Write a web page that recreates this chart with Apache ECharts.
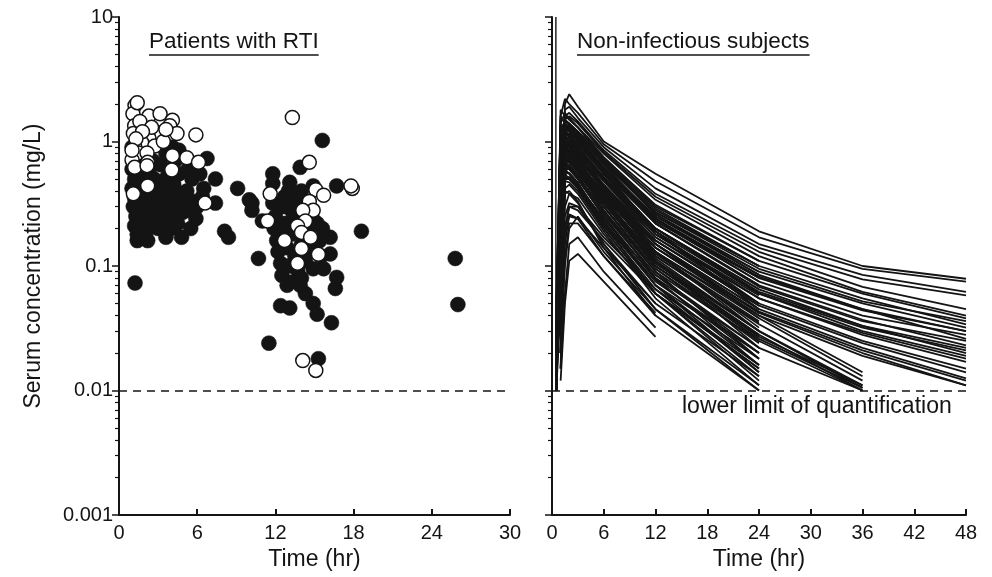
<!DOCTYPE html>
<html><head><meta charset="utf-8">
<script src="https://cdn.jsdelivr.net/npm/echarts@6/dist/echarts.min.js"></script>
<style>html,body{margin:0;padding:0;background:#fff}#c{width:992px;height:577px}</style>
</head><body><div id="c"></div>
<script>
const FONT = '"Liberation Sans", Arial, Helvetica, sans-serif';
const INK = '#141414';

// ---- Axis labels / ticks ----
const yTickLabels = ['0.001', '0.01', '0.1', '1', '10'];
const minorTickValues = [0.002,0.003,0.004,0.005,0.006,0.007,0.008,0.009,
  0.02,0.03,0.04,0.05,0.06,0.07,0.08,0.09,
  0.2,0.3,0.4,0.5,0.6,0.7,0.8,0.9,
  2,3,4,5,6,7,8,9];
const lloq = 0.01;

// ---- Left panel: patients with RTI (hr, mg/L) ----
const rtiFilledEarly = [
  [1.0,0.9],[1.1,0.75],[1.0,0.6],[1.2,0.5],[1.0,0.42],[1.2,0.35],[1.1,0.3],[1.3,0.25],[1.2,0.21],[1.4,0.18],[1.4,0.16],[1.23,0.073],
  [1.6,0.95],[1.7,0.8],[1.5,0.65],[1.8,0.55],[1.6,0.45],[1.9,0.38],[1.7,0.32],[2.0,0.27],[1.8,0.22],[2.1,0.19],[1.7,0.17],[2.2,0.16],
  [2.4,0.9],[2.6,0.7],[2.3,0.58],[2.7,0.5],[2.5,0.42],[2.8,0.36],[2.4,0.3],[2.9,0.26],[2.6,0.22],[3.0,0.2],[2.5,0.25],[2.2,0.35],
  [3.3,0.95],[3.6,0.8],[3.2,0.65],[3.7,0.52],[3.4,0.45],[3.8,0.38],[3.3,0.33],[3.9,0.28],[3.5,0.24],[4.0,0.2],[3.6,0.17],[3.1,0.4],[3.2,0.28],
  [4.3,0.7],[4.6,0.55],[4.2,0.45],[4.7,0.38],[4.4,0.32],[4.9,0.27],[4.5,0.22],[4.8,0.17],[4.2,0.25],[4.1,0.9],[4.6,0.85],
  [5.3,0.6],[5.6,0.5],[5.2,0.4],[5.7,0.33],[5.4,0.28],[5.9,0.24],[5.1,0.35],[5.5,0.2],
  [6.2,0.55],[6.5,0.42],[6.0,0.3],[6.4,0.36],
  [6.75,0.73],[7.4,0.5],[7.4,0.32],[9.1,0.42],[8.1,0.19],[8.4,0.17]
];
const rtiFilledLate = [
  [10.0,0.34],[10.2,0.32],[10.2,0.28],[11.0,0.23],[10.7,0.115],[11.5,0.024],[11.8,0.55],[11.8,0.46],[11.8,0.32],[12.1,0.16],
  [12.4,0.105],[12.5,0.084],[12.4,0.048],[13.1,0.47],[13.1,0.29],[13.1,0.074],[13.1,0.046],[13.7,0.092],[13.9,0.62],[14.3,0.06],
  [14.9,0.44],[14.9,0.095],[14.9,0.05],[15.2,0.041],[15.3,0.018],[15.4,0.16],[15.6,1.02],[15.7,0.095],[16.2,0.17],[16.2,0.125],
  [16.3,0.035],[16.6,0.066],[16.7,0.44],[16.7,0.081],[18.6,0.19],[25.8,0.115],[26.0,0.049],
  [12.0,0.25],[12.3,0.2],[12.6,0.3],[12.8,0.22],[12.9,0.14],[13.2,0.18],[13.4,0.25],[13.5,0.12],[13.6,0.35],[13.8,0.2],
  [14.0,0.15],[14.2,0.28],[14.3,0.11],[14.5,0.19],[14.6,0.13],[14.8,0.25],[15.0,0.14],[15.2,0.22],[15.5,0.12],[15.6,0.2],
  [12.2,0.13],[13.0,0.1],[14.0,0.08],[11.9,0.2],[12.7,0.36],[12.9,0.07],[13.9,0.07],[13.0,0.4],[14.0,0.4]
];
const rtiOpen = [
  [1.23,1.95],[1.07,1.67],[2.3,1.6],[3.15,1.67],[4.1,1.48],[3.9,1.34],[1.2,1.34],[2.9,1.18],[4.45,1.16],[5.9,1.13],
  [1.1,1.16],[2.3,1.06],[1.75,0.98],[2.75,0.92],[1.2,0.92],[1.5,0.81],[2.15,0.81],[4.1,0.77],[5.2,0.74],[6.1,0.68],
  [1.0,0.71],[2.2,0.68],[1.2,0.62],[2.15,0.64],[4.05,0.59],[2.2,0.44],[1.1,0.38],[6.6,0.32],
  [1.4,2.05],[1.6,1.45],[2.5,1.3],[1.8,1.2],[3.4,1.0],[1.3,1.05],[1.0,0.85],[3.6,1.25],
  [13.3,1.56],[14.6,0.68],[15.1,0.41],[15.7,0.37],[17.9,0.42],[17.8,0.44],[11.6,0.38],[14.6,0.33],[14.9,0.28],[14.1,0.28],
  [14.3,0.23],[11.4,0.23],[13.7,0.21],[14.0,0.186],[14.7,0.17],[12.7,0.16],[14.0,0.138],[15.3,0.124],[13.7,0.105],
  [14.1,0.0174],[15.1,0.0145]
];

// ---- Right panel: non-infectious subjects, concentration-time profiles ----
const profileTimes = [0.5, 1, 1.5, 2, 3, 6, 12, 24, 36, 48];
const profilesTop = [
  [null,0.04,2.0,2.4,1.9,1.0,0.55,0.19,0.1,0.079],
  [0.02,1.6,2.2,2.0,1.7,0.95,0.48,0.17,0.095,0.075],
  [null,0.1,1.8,1.9,1.55,0.9,0.42,0.15,0.085,0.062],
  [0.03,1.4,1.7,1.5,1.3,0.8,0.34,0.12,0.062,0.04],
  [null,0.2,1.5,1.6,1.4,0.82,0.36,0.13,0.068,0.045],
  [0.015,1.1,1.4,1.3,1.2,0.72,0.29,0.1,0.055,0.034],
  [null,0.06,1.3,1.35,1.15,0.68,0.26,0.09,0.05,0.032],
  [0.05,1.3,1.2,1.1,0.95,0.6,0.25,0.085,0.045,0.026],
  [null,0.05,1.6,1.7,1.45,0.85,0.38,0.14,0.078,0.058],
  [0.02,1.25,1.45,1.4,1.2,0.74,0.31,0.11,0.06,0.038],
  [null,0.06,1.35,1.3,1.15,0.68,0.27,0.095,0.052,0.036]
];
const profilesMid48 = [
  [null,0.03,1.1,1.15,1.0,0.6,0.22,0.07,0.037,0.023],
  [0.01,0.9,1.0,0.95,0.85,0.5,0.2,0.065,0.033,0.02],
  [null,0.08,0.95,1.0,0.88,0.5,0.18,0.055,0.028,0.017],
  [0.02,0.75,0.9,0.85,0.75,0.45,0.17,0.05,0.025,0.015],
  [null,0.15,1.2,1.1,0.95,0.55,0.2,0.06,0.03,0.019],
  [0.04,0.85,0.8,0.75,0.65,0.4,0.15,0.045,0.022,0.0125],
  [null,0.02,0.8,0.85,0.75,0.42,0.15,0.042,0.02,0.011],
  [0.012,0.6,0.7,0.68,0.6,0.36,0.13,0.04,0.019,0.011],
  [null,0.25,1.3,1.25,1.1,0.62,0.23,0.075,0.04,0.028],
  [0.03,0.95,1.1,1.05,0.9,0.5,0.19,0.06,0.032,0.021],
  [null,0.1,1.25,1.2,1.05,0.62,0.24,0.08,0.044,0.03],
  [0.015,0.9,1.05,1.0,0.88,0.52,0.2,0.062,0.033,0.022],
  [null,0.03,0.92,0.95,0.82,0.48,0.18,0.055,0.029,0.018],
  [0.03,0.8,0.85,0.82,0.72,0.42,0.16,0.048,0.024,0.014],
  [null,0.2,1.15,1.1,0.96,0.57,0.22,0.068,0.036,0.025],
  [0.01,0.7,0.78,0.76,0.66,0.38,0.14,0.043,0.021,0.012],
  [0.025,1.0,1.2,1.15,1.0,0.6,0.24,0.082,0.045,0.03]
];
const profilesTo36 = [
  [null,0.05,0.75,0.7,0.6,0.33,0.11,0.03,0.0105],
  [0.01,0.7,0.8,0.75,0.62,0.33,0.1,0.028,0.01],
  [null,0.02,0.6,0.62,0.52,0.28,0.09,0.025,0.01],
  [0.02,0.8,0.9,0.82,0.7,0.38,0.13,0.038,0.013],
  [null,0.1,0.65,0.6,0.5,0.26,0.085,0.022],
  [0.02,0.9,0.95,0.9,0.76,0.42,0.14,0.04,0.014],
  [null,0.04,0.7,0.72,0.6,0.32,0.1,0.027,0.011],
  [0.01,0.55,0.68,0.65,0.55,0.3,0.095,0.026,0.0105],
  [null,0.1,0.85,0.82,0.7,0.38,0.12,0.034,0.012],
  [0.03,0.65,0.72,0.7,0.6,0.32,0.105,0.03,0.011],
  [null,0.02,0.5,0.52,0.44,0.24,0.08,0.022,0.01]
];
const profilesTo24 = [
  [0.03,1.8,1.6,1.5,1.3,0.75,0.3,0.11],
  [null,0.07,1.6,1.55,1.3,0.7,0.26,0.085],
  [0.015,1.0,1.3,1.2,1.0,0.55,0.2,0.06],
  [null,0.03,1.2,1.25,1.05,0.56,0.19,0.05],
  [0.02,1.3,1.4,1.3,1.1,0.58,0.19,0.045],
  [null,0.12,1.1,1.0,0.85,0.45,0.15,0.038],
  [0.05,1.1,1.0,0.9,0.75,0.4,0.13,0.032],
  [null,0.04,0.95,0.95,0.8,0.42,0.13,0.03],
  [0.01,0.6,0.85,0.8,0.68,0.35,0.11,0.025],
  [null,0.3,0.95,0.88,0.72,0.36,0.11,0.022],
  [0.03,0.75,0.8,0.72,0.6,0.3,0.09,0.018],
  [null,0.015,0.7,0.7,0.58,0.28,0.08,0.016],
  [0.01,0.65,0.65,0.6,0.5,0.25,0.07,0.014],
  [null,0.05,0.55,0.56,0.47,0.22,0.06,0.012],
  [0.02,0.9,0.85,0.78,0.65,0.34,0.12,0.035],
  [null,0.2,1.5,1.35,1.15,0.65,0.24,0.075],
  [0.04,1.6,1.4,1.25,1.05,0.6,0.22,0.07],
  [null,0.03,0.5,0.5,0.43,0.22,0.07,0.02],
  [0.01,0.5,0.55,0.5,0.42,0.2,0.06,0.015],
  [null,0.02,0.42,0.45,0.38,0.19,0.055,0.011],
  [0.02,0.35,0.4,0.38,0.32,0.15,0.045,0.01],
  [null,0.05,0.38,0.4,0.33,0.14,0.04],
  [0.015,0.45,0.6,0.55,0.45,0.23,0.075,0.02],
  [null,0.1,0.9,0.92,0.78,0.44,0.16,0.05],
  [0.02,1.2,1.35,1.25,1.05,0.62,0.25,0.09],
  [null,0.04,1.25,1.3,1.1,0.6,0.23,0.08],
  [0.03,0.95,1.15,1.1,0.92,0.52,0.2,0.065],
  [null,0.08,1.05,1.08,0.9,0.48,0.17,0.055],
  [0.012,0.8,1.0,0.95,0.8,0.44,0.16,0.048],
  [null,0.15,0.9,0.9,0.76,0.4,0.14,0.042],
  [0.02,0.7,0.88,0.85,0.7,0.37,0.125,0.036],
  [null,0.03,0.82,0.8,0.67,0.35,0.115,0.03],
  [0.01,0.55,0.75,0.74,0.62,0.32,0.1,0.027],
  [null,0.06,0.7,0.68,0.57,0.3,0.095,0.024],
  [0.025,0.62,0.66,0.63,0.53,0.27,0.085,0.02],
  [null,0.02,0.6,0.6,0.5,0.25,0.078,0.018],
  [0.015,0.48,0.58,0.55,0.46,0.23,0.07,0.016],
  [null,0.04,0.52,0.5,0.42,0.21,0.065,0.014],
  [0.01,0.4,0.48,0.47,0.4,0.2,0.06,0.013],
  [null,0.09,1.4,1.3,1.12,0.66,0.27,0.1],
  [0.04,1.5,1.5,1.4,1.2,0.7,0.28,0.1],
  [null,0.02,0.98,1.02,0.88,0.5,0.18,0.058],
  [0.02,0.85,0.95,0.9,0.78,0.43,0.15,0.045],
  [null,0.12,0.78,0.76,0.64,0.33,0.105,0.028]
];
const profilesLow = [
  [null,0.012,0.05,0.11,0.125,0.075,0.027],
  [null,0.03,0.1,0.2,0.25,0.13,0.045,0.011],
  [null,0.015,0.06,0.15,0.17,0.09,0.032],
  [0.01,0.05,0.15,0.26,0.24,0.14,0.05,0.013],
  [null,0.1,0.2,0.3,0.28,0.16,0.06,0.016],
  [null,0.02,0.2,0.3,0.3,0.17,0.065,0.018],
  [0.01,0.1,0.3,0.38,0.35,0.18,0.06,0.015],
  [null,0.04,0.25,0.32,0.3,0.15,0.05],
  [null,0.015,0.12,0.22,0.22,0.12,0.04,0.01],
  [0.012,0.06,0.18,0.25,0.24,0.12,0.042]
];
const verticalTrace = [[0.45, 10], [0.45, 0.01]];

// ---- build ----
function axisStyleX(gridIndex, max) {
  return {
    type: 'value', gridIndex: gridIndex, min: 0, max: max, interval: 6,
    axisLine: { lineStyle: { color: INK, width: 2 } },
    axisTick: { inside: true, length: 6, lineStyle: { color: INK, width: 2 } },
    axisLabel: { color: INK, fontSize: 20, fontFamily: FONT, margin: 8 },
    splitLine: { show: false },
    name: 'Time (hr)', nameLocation: 'middle', nameGap: 33,
    nameTextStyle: { color: INK, fontSize: 23, fontFamily: FONT }
  };
}
function majorY(gridIndex, showLabels) {
  return {
    type: 'log', logBase: 10, gridIndex: gridIndex, min: 0.001, max: 10, position: 'left',
    axisLine: { show: true, lineStyle: { color: INK, width: 2 } },
    axisTick: { show: true, inside: false, length: 7, lineStyle: { color: INK, width: 1.5 } },
    axisLabel: { show: showLabels, color: INK, fontSize: 20, fontFamily: FONT, margin: 6,
      formatter: function (v) { return yTickLabels[Math.round(Math.log10(v)) + 3]; } },
    splitLine: { show: false },
    name: showLabels ? 'Serum concentration (mg/L)' : '',
    nameLocation: 'middle', nameRotate: 90, nameGap: 74,
    nameTextStyle: { color: INK, fontSize: 23, fontFamily: FONT }
  };
}
function minorY(gridIndex) {
  return {
    type: 'log', logBase: 10, gridIndex: gridIndex, min: 0.001, max: 10, position: 'left', offset: 0,
    axisLine: { show: false },
    axisTick: { show: true, inside: false, length: 4, customValues: minorTickValues, lineStyle: { color: INK, width: 1.2 } },
    axisLabel: { show: false },
    splitLine: { show: false }
  };
}
const dashed = {
  silent: true, symbol: ['none', 'none'], label: { show: false },
  lineStyle: { type: [8, 6], color: INK, width: 1.5 },
  data: [{ yAxis: lloq }]
};

const series = [];
series.push({ type: 'scatter', xAxisIndex: 0, yAxisIndex: 0, data: rtiFilledEarly.concat(rtiFilledLate),
  symbol: 'circle', symbolSize: 15, itemStyle: { color: INK, borderColor: INK, borderWidth: 0.5, opacity: 1 },
  markLine: dashed, silent: true, animation: false });
series.push({ type: 'scatter', xAxisIndex: 0, yAxisIndex: 0, data: rtiOpen,
  symbol: 'circle', symbolSize: 14, itemStyle: { color: '#fff', borderColor: INK, borderWidth: 1.5, opacity: 1 },
  silent: true, animation: false });

const allProfiles = [].concat(profilesTop, profilesMid48, profilesTo36, profilesTo24, profilesLow);
allProfiles.forEach(function (p, k) {
  const pts = [];
  p.forEach(function (v, i) { if (v != null) pts.push([profileTimes[i], v]); });
  const s = { type: 'line', xAxisIndex: 1, yAxisIndex: 2, data: pts, symbol: 'none', showSymbol: false,
    lineStyle: { color: INK, width: 1.8 }, silent: true, animation: false };
  if (k === 0) s.markLine = dashed;
  series.push(s);
});
series.push({ type: 'line', xAxisIndex: 1, yAxisIndex: 2, data: verticalTrace, symbol: 'none', showSymbol: false,
  lineStyle: { color: INK, width: 1.4 }, silent: true, animation: false });

// text metrics for underlines
const ctx = document.createElement('canvas').getContext('2d');
const TITLE_FONT = '22.5px ' + FONT;
ctx.font = TITLE_FONT;
const t1 = 'Patients with RTI', t2 = 'Non-infectious subjects';
const w1 = ctx.measureText(t1).width, w2 = ctx.measureText(t2).width;

const chart = echarts.init(document.getElementById('c'), null, { renderer: 'canvas' });
chart.setOption({
  backgroundColor: '#fff',
  animation: false,
  grid: [
    { left: 119, top: 17, width: 391, height: 498 },
    { left: 552, top: 17, width: 414, height: 498 }
  ],
  xAxis: [axisStyleX(0, 30), axisStyleX(1, 48)],
  yAxis: [majorY(0, true), minorY(0), majorY(1, false), minorY(1)],
  series: series,
  graphic: [
    { type: 'text', x: 149, y: 42, style: { text: t1, font: TITLE_FONT, fill: INK, textAlign: 'left', textVerticalAlign: 'middle', verticalAlign: 'middle' } },
    { type: 'line', shape: { x1: 149, y1: 55, x2: 149 + w1, y2: 55 }, style: { stroke: INK, lineWidth: 1.5 } },
    { type: 'text', x: 577, y: 42, style: { text: t2, font: TITLE_FONT, fill: INK, textAlign: 'left', textVerticalAlign: 'middle', verticalAlign: 'middle' } },
    { type: 'line', shape: { x1: 577, y1: 55, x2: 577 + w2, y2: 55 }, style: { stroke: INK, lineWidth: 1.5 } },
    { type: 'text', x: 682, y: 407, style: { text: 'lower limit of quantification', font: '23px ' + FONT, fill: INK, textAlign: 'left', textVerticalAlign: 'middle', verticalAlign: 'middle' } }
  ]
});
</script>
</body></html>
